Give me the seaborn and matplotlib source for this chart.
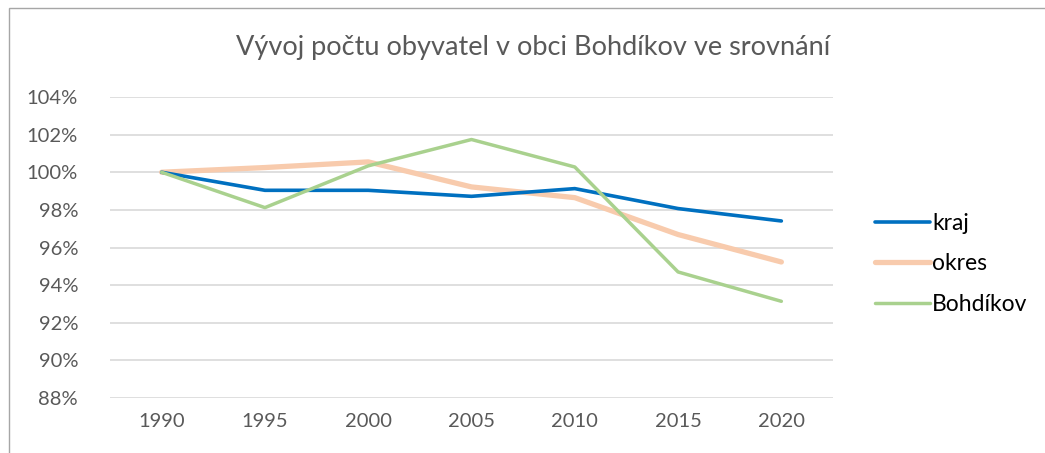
import matplotlib
matplotlib.use("Agg")
import matplotlib.pyplot as plt
import seaborn as sns
import pandas as pd
from matplotlib.patches import Rectangle
from matplotlib.lines import Line2D

years = ["1990", "1995", "2000", "2005", "2010", "2015", "2020"]
kraj = [100.0, 99.04, 99.04, 98.72, 99.13, 98.07, 97.41]
okres = [100.0, 100.25, 100.55, 99.22, 98.65, 96.69, 95.23]
bohdikov = [100.0, 98.12, 100.34, 101.74, 100.28, 94.70, 93.14]
series_names = ["kraj", "okres", "Bohdíkov"]
title = "Vývoj počtu obyvatel v obci Bohdíkov ve srovnání"
y_ticks = [88, 90, 92, 94, 96, 98, 100, 102, 104]

sns.set_theme(style="white")
plt.rcParams['font.family'] = ['Lato', 'DejaVu Sans']

rows = []
for name, vals in zip(series_names, [kraj, okres, bohdikov]):
    for i, (yr, v) in enumerate(zip(years, vals)):
        rows.append({"pos": i, "year": yr, "value": v, "series": name})
df = pd.DataFrame(rows)

colors = {"kraj": "#0070C0", "okres": "#F8CBAD", "Bohdíkov": "#A9D18E"}
widths = {"kraj": 2.6, "okres": 3.8, "Bohdíkov": 2.5}

fig = plt.figure(figsize=(10.45, 4.53), dpi=100)
ax = fig.add_axes([110/1045, 1-398/453, (833-110)/1045, (398-97)/453])

for name in series_names:
    sub = df[df["series"] == name]
    sns.lineplot(data=sub, x="pos", y="value", color=colors[name], lw=widths[name],
                 ax=ax, legend=False, solid_capstyle="round", solid_joinstyle="round",
                 zorder={"kraj": 4, "okres": 3, "Bohdíkov": 5}[name])

ax.set_xlim(-0.5, len(years) - 0.5)
ax.set_ylim(88, 104)
ax.set_xticks(range(len(years)))
ax.set_xticklabels(years)
ax.set_yticks(y_ticks)
ax.set_yticklabels([f"{t}%" for t in y_ticks])
ax.tick_params(axis="both", length=0, labelsize=14.5, colors="#595959")
ax.tick_params(axis="x", pad=11)
ax.tick_params(axis="y", pad=23)
ax.grid(axis="y", color="#D9D9D9", lw=1.2)
ax.set_axisbelow(True)
for s in ax.spines.values():
    s.set_visible(False)
ax.set_xlabel("")
ax.set_ylabel("")

fig.text(533/1045, 1-48/453, title, ha="center", va="center", fontsize=19.5, color="#595959")

handles = [Line2D([0], [0], color=colors[n], lw=widths[n], solid_capstyle="round") for n in series_names]
fig.legend(handles, series_names, loc="center left", bbox_to_anchor=(854/1045, 1-264/453),
           frameon=False, fontsize=16.5, handlelength=2.4, handletextpad=0.1,
           labelspacing=0.85, labelcolor="#000000")

fig.patches.append(Rectangle((9/1045, -0.1), 1.2, 1.1 - 8.5/453, transform=fig.transFigure,
                             fill=False, edgecolor="#A6A6A6", lw=1.0))

fig.savefig("out.png", dpi=100, facecolor="white")
